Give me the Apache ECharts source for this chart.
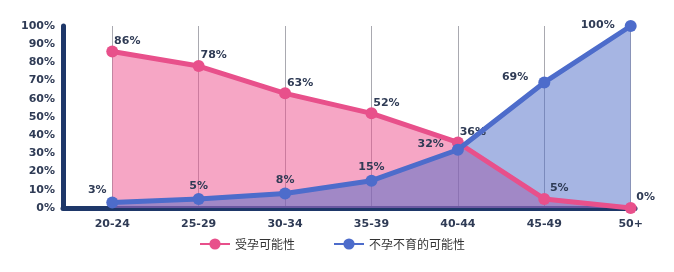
<!DOCTYPE html>
<html><head><meta charset="utf-8">
<script src="https://cdn.jsdelivr.net/npm/echarts@6/dist/echarts.min.js"></script>
<style>html,body{margin:0;padding:0;background:#fff}#c{width:674px;height:272px}</style>
</head><body><div id="c"></div>
<script>
const categories = ['20-24','25-29','30-34','35-39','40-44','45-49','50+'];
const conceive = [86, 78, 63, 52, 36, 5, 0];
const infertile = [3, 5, 8, 15, 32, 69, 100];
const yTicks = [0,10,20,30,40,50,60,70,80,90,100];
const seriesNames = ['受孕可能性','不孕不育的可能性'];

const pinkLine = '#e8508b', blueLine = '#4d6ccb';
const navy = '#1e3769';
const labelColor = '#2f3b55';
const font = '"DejaVu Sans", "Noto Sans CJK SC", sans-serif';
const cjkFont = '"Noto Sans CJK SC", sans-serif';
const lblBase = {show:true, color:labelColor, fontSize:11, fontWeight:'bold', fontFamily:font, formatter:p=>p.value[1]+'%'};

const blueLabelCfg = [
  {position:'top', distance:1, offset:[-15,0]},
  {position:'top', distance:1, offset:[0,0]},
  {position:'top', distance:2, offset:[0,0]},
  {position:'top', distance:2, offset:[0,0]},
  {position:'left', distance:8, offset:[0,-6]},
  {position:'left', distance:10, offset:[0,-5]},
  {position:'left', distance:10, offset:[0,-1]}
];

const chart = echarts.init(document.getElementById('c'), null, {renderer:'canvas'});
chart.setOption({
  animation:false,
  grid:{left:63, right:39, top:26, bottom:64, containLabel:false},
  legend:{
    data:seriesNames, left:194, top:233, itemWidth:30, itemHeight:14, itemGap:38,
    textStyle:{color:'#333', fontSize:12, fontFamily:cjkFont}
  },
  xAxis:{
    type:'value', min:-0.57, max:6.05,
    axisLine:{show:true, onZero:false, lineStyle:{color:navy, width:5}},
    axisTick:{show:false, customValues:categories.map((c,i)=>i)},
    axisLabel:{customValues:categories.map((c,i)=>i), formatter:v=>categories[Math.round(v)], color:labelColor, fontSize:11, fontWeight:'bold', fontFamily:font, margin:11},
    splitLine:{show:true, lineStyle:{color:'#a9a9b0', width:1}}
  },
  yAxis:{
    type:'value', min:0, max:100, interval:10,
    axisLine:{show:true, onZero:false, lineStyle:{color:navy, width:5}},
    axisTick:{show:false},
    axisLabel:{formatter:'{value}%', color:labelColor, fontSize:11, fontWeight:'bold', fontFamily:font, margin:8,
      customValues:yTicks},
    splitLine:{show:false}
  },
  series:[
    {name:'a1', type:'line', data:conceive.map((v,i)=>[i,v]), symbol:'none', silent:true,
      lineStyle:{width:0}, areaStyle:{color:'rgba(238,78,140,0.5)', opacity:1}, z:1},
    {name:'a2', type:'line', data:infertile.map((v,i)=>[i,v]), symbol:'none', silent:true,
      lineStyle:{width:0}, areaStyle:{color:'rgba(78,108,200,0.5)', opacity:1}, z:1},
    {name:seriesNames[0], type:'line', data:conceive.map((v,i)=>[i,v]), symbol:'circle', symbolSize:12,
      itemStyle:{color:pinkLine}, lineStyle:{color:pinkLine, width:5}, z:3,
      label:Object.assign({}, lblBase, {position:'top', distance:0, offset:[15,1]})},
    {name:seriesNames[1], type:'line', symbol:'circle', symbolSize:12,
      data:infertile.map((v,i)=>({value:[i,v], label:blueLabelCfg[i]})),
      itemStyle:{color:blueLine}, lineStyle:{color:blueLine, width:5}, z:4,
      label:Object.assign({}, lblBase)}
  ]
});
</script></body></html>
